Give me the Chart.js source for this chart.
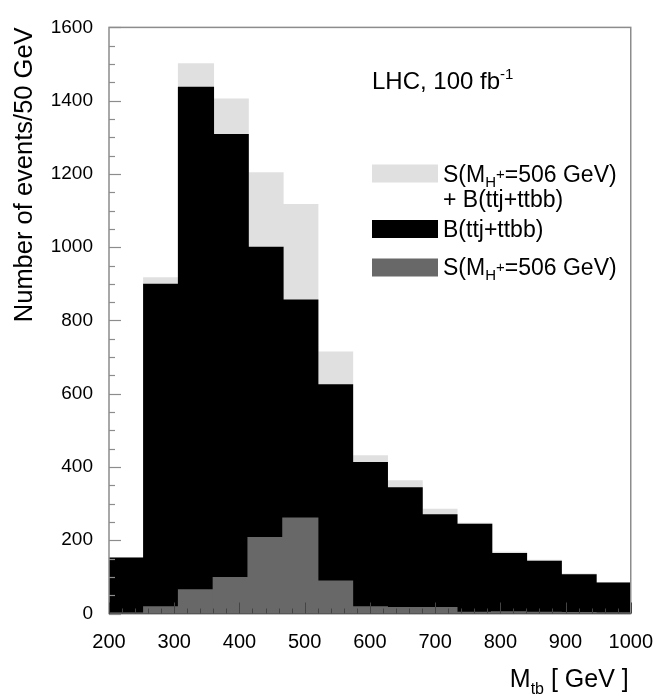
<!DOCTYPE html>
<html>
<head>
<meta charset="utf-8">
<script src="https://cdn.jsdelivr.net/npm/chart.js@4.4.0/dist/chart.umd.min.js"></script>
<style>
html, body { margin: 0; padding: 0; background: #fff; }
#wrap { width: 670px; height: 696px; }
</style>
</head>
<body>
<div id="wrap"><canvas id="myChart" width="670" height="696"></canvas></div>
<script>
//histogram bins in M_tb (GeV), 15 bins from 200 to 1000
var binEdges = [200, 253.3, 306.7, 360, 413.3, 466.7, 520, 573.3, 626.7,
                680, 733.3, 786.7, 840, 893.3, 946.7, 1000];
//S(MH+=506 GeV) + B(ttj+ttbb)
var sigPlusBkg = [151, 916, 1500, 1404, 1203, 1116, 713, 430, 362, 284, 246, 167, 145, 107, 84];
//B(ttj+ttbb)
var bkg = [151, 898, 1436, 1307, 999, 855, 624, 412, 343, 269, 243, 163, 142, 105, 83];
//S(MH+=506 GeV)
var sig = [0, 18, 64, 98, 207, 260, 88, 18, 16, 16, 3, 4, 3, 2, 1];

var xTicks = [200, 300, 400, 500, 600, 700, 800, 900, 1000];
var yTicks = [0, 200, 400, 600, 800, 1000, 1200, 1400, 1600];

var colLight = '#e0e0e0';
var colBkg = '#000000';
var colSig = '#686868';
var fontFamily = "'Liberation Sans', Arial, Helvetica, sans-serif";

//build {x,y} points at bin centres
function toPoints(values){
	var pts = [];
	for(var i = 0; i < values.length; i++){
		pts.push({x: (binEdges[i] + binEdges[i + 1]) / 2, y: values[i]});
	}
	return pts;
}

//draws a line of text made of pieces [text, size, dy]
function drawRich(ctx, parts, x, y, align){
	var total = 0;
	var i;
	for(i = 0; i < parts.length; i++){
		ctx.font = parts[i][1] + 'px ' + fontFamily;
		total += ctx.measureText(parts[i][0]).width;
	}
	var cx = (align == 'right') ? x - total : x;
	ctx.textAlign = 'left';
	ctx.textBaseline = 'alphabetic';
	for(i = 0; i < parts.length; i++){
		ctx.font = parts[i][1] + 'px ' + fontFamily;
		ctx.fillText(parts[i][0], cx, y + parts[i][2]);
		cx += ctx.measureText(parts[i][0]).width;
	}
}

var frameTicks = {
	id: 'frameTicks',
	afterDatasetsDraw: function(chart){
		var ctx = chart.ctx;
		var a = chart.chartArea;
		var xs = chart.scales.x;
		var ys = chart.scales.y;
		var v, p, len;
		ctx.save();
		//frame
		ctx.strokeStyle = '#8c8c8c';
		ctx.lineWidth = 1.5;
		ctx.strokeRect(a.left, a.top, a.right - a.left, a.bottom - a.top);
		ctx.strokeStyle = '#555';
		ctx.beginPath();
		ctx.moveTo(a.left, a.bottom);
		ctx.lineTo(a.right, a.bottom);
		ctx.stroke();
		//y ticks, inward
		ctx.strokeStyle = '#8c8c8c';
		ctx.lineWidth = 1.2;
		for(v = 0; v <= 1600; v += 50){
			p = Math.round(ys.getPixelForValue(v)) + 0.5;
			len = (v % 200 == 0) ? 12 : 6;
			ctx.beginPath();
			ctx.moveTo(a.left, p);
			ctx.lineTo(a.left + len, p);
			ctx.stroke();
		}
		//x ticks, inward
		ctx.strokeStyle = '#444';
		ctx.lineWidth = 1;
		for(v = 200; v <= 1000; v += 20){
			p = Math.round(xs.getPixelForValue(v)) + 0.5;
			len = (v % 100 == 0) ? 11 : 5;
			ctx.beginPath();
			ctx.moveTo(p, a.bottom);
			ctx.lineTo(p, a.bottom - len);
			ctx.stroke();
		}
		ctx.restore();
	},
	afterDraw: function(chart){
		var ctx = chart.ctx;
		var ds = chart.data.datasets;
		ctx.save();
		ctx.fillStyle = '#000';
		//annotation
		drawRich(ctx, [['LHC, 100 fb', 24, 0], ['-1', 15, -10]], 372, 89);
		//legend boxes
		ctx.fillStyle = ds[2].backgroundColor;
		ctx.fillRect(372, 164.5, 66, 18);
		ctx.fillStyle = ds[1].backgroundColor;
		ctx.fillRect(372, 220, 66, 18);
		ctx.fillStyle = ds[0].backgroundColor;
		ctx.fillRect(372, 258.5, 66, 18);
		ctx.fillStyle = '#000';
		drawRich(ctx, [['S(M', 23, 0], ['H', 15, 5], ['+', 15, -3], ['=506 GeV)', 23, 0]], 443, 181.7);
		drawRich(ctx, [['+ B(ttj+ttbb)', 23, 0]], 443, 206.7);
		drawRich(ctx, [['B(ttj+ttbb)', 23, 0]], 443, 237);
		drawRich(ctx, [['S(M', 23, 0], ['H', 15, 5], ['+', 15, -3], ['=506 GeV)', 23, 0]], 443, 275);
		//x axis title
		drawRich(ctx, [['M', 25, 0], ['tb', 16, 7], [' [ GeV ]', 25, 0]], chart.chartArea.right - 2, 687, 'right');
		ctx.restore();
	}
};

Chart.defaults.font.family = fontFamily;
Chart.defaults.color = '#000';

var ctx = document.getElementById('myChart');
var myChart = new Chart(ctx, {
	type: 'bar',
	data: {
		datasets: [
			{label: 'S(MH+=506 GeV)', data: toPoints(sig), backgroundColor: colSig},
			{label: 'B(ttj+ttbb)', data: toPoints(bkg), backgroundColor: colBkg},
			{label: 'S(MH+=506 GeV) + B(ttj+ttbb)', data: toPoints(sigPlusBkg), backgroundColor: colLight}
		]
	},
	options: {
		responsive: false,
		animation: false,
		grouped: false,
		barPercentage: 1,
		categoryPercentage: 1,
		borderWidth: 0,
		inflateAmount: 0.7,
		layout: {padding: {left: 0, right: 36, top: 13.5, bottom: 0}},
		plugins: {
			legend: {display: false},
			tooltip: {enabled: false}
		},
		scales: {
			x: {
				type: 'linear',
				offset: false,
				min: 200,
				max: 1000,
				grid: {display: false, drawTicks: false},
				border: {display: false},
				ticks: {
					padding: 17,
					font: {size: 20},
					maxRotation: 0,
					callback: function(v){ return String(v); }
				},
				afterBuildTicks: function(scale){
					scale.ticks = xTicks.map(function(v){ return {value: v}; });
				},
				afterFit: function(scale){ scale.height = 82.5; }
			},
			y: {
				min: 0,
				max: 1600,
				grid: {display: false, drawTicks: false},
				border: {display: false},
				ticks: {
					padding: 16,
					font: {size: 19},
					callback: function(v){ return String(v); }
				},
				afterBuildTicks: function(scale){
					scale.ticks = yTicks.map(function(v){ return {value: v}; });
				},
				afterFit: function(scale){ scale.width = 109; },
				title: {
					display: true,
					text: 'Number of events/50 GeV',
					align: 'end',
					font: {size: 25.5},
					padding: {top: 10, bottom: 0}
				}
			}
		}
	},
	plugins: [frameTicks]
});
</script>
</body>
</html>
